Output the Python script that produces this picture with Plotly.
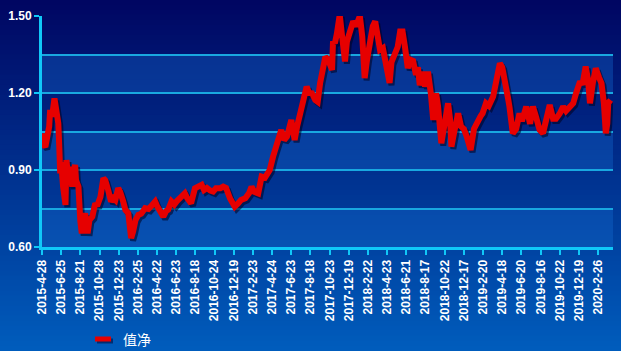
import plotly.graph_objects as go

# ---- data (trading-day index, net value) ----
day = [0, 3, 7, 11, 15, 17, 19, 21, 26, 30, 32, 34, 36, 38, 40, 44, 49, 51, 53, 55,
       57, 59, 63, 65, 69, 71, 76, 80, 83, 86, 90, 95, 99, 105, 111, 115, 122, 128, 132, 138,
       144, 149, 153, 159, 163, 169, 174, 180, 186, 190, 195, 201, 207, 215, 222, 228, 236, 240, 246, 253,
       259, 263, 270, 276, 282, 290, 298, 303, 311, 319, 326, 333, 338, 344, 351, 357, 363, 372, 378, 384,
       392, 397, 402, 409, 415, 424, 432, 437, 443, 451, 458, 465, 475, 482, 489, 495, 499, 505, 511, 520,
       527, 532, 541, 547, 552, 557, 563, 570, 575, 580, 586, 591, 597, 605, 607, 611, 615, 621, 626, 632,
       636, 643, 649, 655, 663, 668, 673, 678, 684, 690, 695, 701, 705, 711, 717, 725, 729, 736, 742, 747,
       752, 757, 763, 768, 774, 780, 784, 788, 795, 799, 805, 811, 816, 822, 826, 833, 839, 847, 851, 854,
       860, 868, 874, 880, 886, 894, 901, 909, 915, 919, 926, 932, 941, 948, 955, 960, 966, 972, 975, 978,
       982, 989, 996, 1001, 1010, 1018, 1024, 1030, 1038, 1045, 1051, 1059, 1066, 1072, 1080, 1087, 1093, 1101, 1108, 1114,
       1121, 1128, 1134, 1139, 1143, 1149, 1155, 1162, 1167, 1172, 1176, 1179, 1181, 1186]
nav = [1.043, 1.000, 0.990, 1.040, 1.069, 1.134, 1.110, 1.108, 1.179, 1.134, 1.140, 1.082, 0.991, 0.887, 0.930, 0.835, 0.764, 0.939, 0.880, 0.861,
       0.913, 0.880, 0.835, 0.887, 0.920, 0.860, 0.835, 0.700, 0.653, 0.705, 0.731, 0.653, 0.705, 0.718, 0.770, 0.760, 0.796, 0.868, 0.860, 0.822,
       0.777, 0.790, 0.783, 0.829, 0.815, 0.780, 0.744, 0.731, 0.634, 0.660, 0.705, 0.725, 0.730, 0.751, 0.748, 0.760, 0.777, 0.760, 0.735, 0.718,
       0.740, 0.745, 0.777, 0.765, 0.780, 0.795, 0.809, 0.790, 0.770, 0.829, 0.835, 0.842, 0.822, 0.830, 0.820, 0.816, 0.829, 0.829, 0.835, 0.830,
       0.790, 0.770, 0.757, 0.770, 0.783, 0.790, 0.810, 0.835, 0.815, 0.809, 0.874, 0.870, 0.900, 0.952, 0.991, 1.030, 1.056, 1.017, 1.030, 1.095,
       1.017, 1.069, 1.147, 1.180, 1.225, 1.200, 1.199, 1.173, 1.166, 1.238, 1.290, 1.341, 1.330, 1.290, 1.401, 1.394, 1.430, 1.505, 1.420, 1.323,
       1.400, 1.440, 1.479, 1.460, 1.500, 1.420, 1.258, 1.330, 1.407, 1.460, 1.479, 1.400, 1.368, 1.375, 1.300, 1.239, 1.320, 1.362, 1.380, 1.440,
       1.440, 1.380, 1.297, 1.330, 1.325, 1.271, 1.300, 1.230, 1.283, 1.225, 1.283, 1.199, 1.095, 1.199, 1.150, 1.004, 1.060, 1.160, 1.100, 0.991,
       1.050, 1.121, 1.070, 1.060, 1.030, 0.978, 1.060, 1.095, 1.110, 1.121, 1.160, 1.150, 1.186, 1.251, 1.316, 1.300, 1.250, 1.180, 1.147, 1.080,
       1.043, 1.060, 1.121, 1.090, 1.147, 1.080, 1.147, 1.110, 1.056, 1.043, 1.100, 1.153, 1.100, 1.100, 1.120, 1.147, 1.130, 1.147, 1.160, 1.199,
       1.238, 1.240, 1.303, 1.250, 1.160, 1.240, 1.296, 1.260, 1.238, 1.160, 1.043, 1.080, 1.160, 1.173]

tick_days = [i * 40 for i in range(30)]
tick_labels = ["2015-4-28", "2015-6-25", "2015-8-21", "2015-10-28", "2015-12-23", "2016-2-25",
               "2016-4-22", "2016-6-23", "2016-8-18", "2016-10-24", "2016-12-19", "2017-2-23",
               "2017-4-24", "2017-6-23", "2017-8-18", "2017-10-23", "2017-12-19", "2018-2-22",
               "2018-4-23", "2018-6-21", "2018-8-17", "2018-10-22", "2018-12-17", "2019-2-20",
               "2019-4-18", "2019-6-20", "2019-8-16", "2019-10-22", "2019-12-19", "2020-2-26"]
y_ticks = [0.60, 0.90, 1.20, 1.50]
y_labels = ["0.60", "0.90", "1.20", "1.50"]
series_name = "值净"

W, H = 621, 351
ML, MR, MT, MB = 42, 8, 16, 104
PH = H - MT - MB
PW = W - ML - MR

def px_x(px):
    return (px - ML) / PW

def px_y(py):
    return (H - MB - py) / PH

shapes = []
# background gradient (paper)
N = 70
top = (0, 6, 98)
bot = (0, 92, 188)
for i in range(N):
    t = i / (N - 1)
    c = tuple(int(round(top[k] + (bot[k] - top[k]) * t)) for k in range(3))
    py0 = H * i / N
    py1 = H * (i + 1) / N
    shapes.append(dict(type="rect", xref="paper", yref="paper",
                       x0=px_x(-2), x1=px_x(W + 2), y0=px_y(py1 + 0.6), y1=px_y(py0 - 0.6),
                       line=dict(width=0), fillcolor="rgb(%d,%d,%d)" % c, layer="below"))
# alternating lighter bands
for lo, hi in [(1.20, 1.35), (0.90, 1.05), (0.60, 0.75)]:
    shapes.append(dict(type="rect", xref="paper", yref="y", x0=0, x1=1, y0=lo, y1=hi,
                       line=dict(width=0), fillcolor="rgba(20,110,210,0.35)", layer="below"))
# legend sample (shadow + line)
shapes.append(dict(type="line", xref="paper", yref="paper", x0=px_x(97), x1=px_x(113),
                   y0=px_y(341), y1=px_y(341), line=dict(color="rgba(0,0,40,0.5)", width=5)))
shapes.append(dict(type="line", xref="paper", yref="paper", x0=px_x(95), x1=px_x(111),
                   y0=px_y(339), y1=px_y(339), line=dict(color="#e60000", width=5)))

annotations = [dict(text=series_name, xref="paper", yref="paper", x=px_x(121), y=px_y(339),
                    xanchor="left", yanchor="middle", showarrow=False,
                    font=dict(family="Noto Sans CJK SC", size=14, color="white"))]

fig = go.Figure()
# shadow
fig.add_trace(go.Scatter(x=[d + 4 for d in day], y=[v - 0.009 for v in nav], mode="lines",
                         line=dict(color="rgba(0,0,30,0.55)", width=6), hoverinfo="skip",
                         showlegend=False))
fig.add_trace(go.Scatter(x=day, y=nav, mode="lines", name=series_name,
                         line=dict(color="#e60000", width=6), showlegend=False))

axis_col = "#10c8f8"
fig.update_layout(
    width=W, height=H,
    margin=dict(l=ML, r=MR, t=MT, b=MB),
    paper_bgcolor="#00207a",
    plot_bgcolor="rgba(0,0,0,0)",
    shapes=shapes,
    annotations=annotations,
    font=dict(family="Liberation Sans, Arial", color="white"),
    showlegend=False,
    xaxis=dict(range=[0, 1191], tickvals=tick_days, ticktext=tick_labels, tickangle=-90,
               automargin=False,
               tickfont=dict(size=12, family="Liberation Sans, Arial", color="white", weight="bold"),
               showgrid=False, zeroline=False, showline=True, linecolor=axis_col, linewidth=3,
               ticks="outside", ticklen=5, tickwidth=2, tickcolor=axis_col),
    yaxis=dict(range=[0.60, 1.50], tickvals=y_ticks, ticktext=y_labels, automargin=False,
               tickfont=dict(size=12, family="Liberation Sans, Arial", color="white", weight="bold"),
               showgrid=True, gridcolor="#19a8e0", gridwidth=1.5, zeroline=False,
               showline=True, linecolor=axis_col, linewidth=3,
               ticks="outside", ticklen=5, tickwidth=2, tickcolor=axis_col,
               minor=dict(dtick=0.15, tick0=0.60, showgrid=True, gridcolor="#19a8e0", gridwidth=1.5, ticks="")),
)

fig.write_html("out.html")
